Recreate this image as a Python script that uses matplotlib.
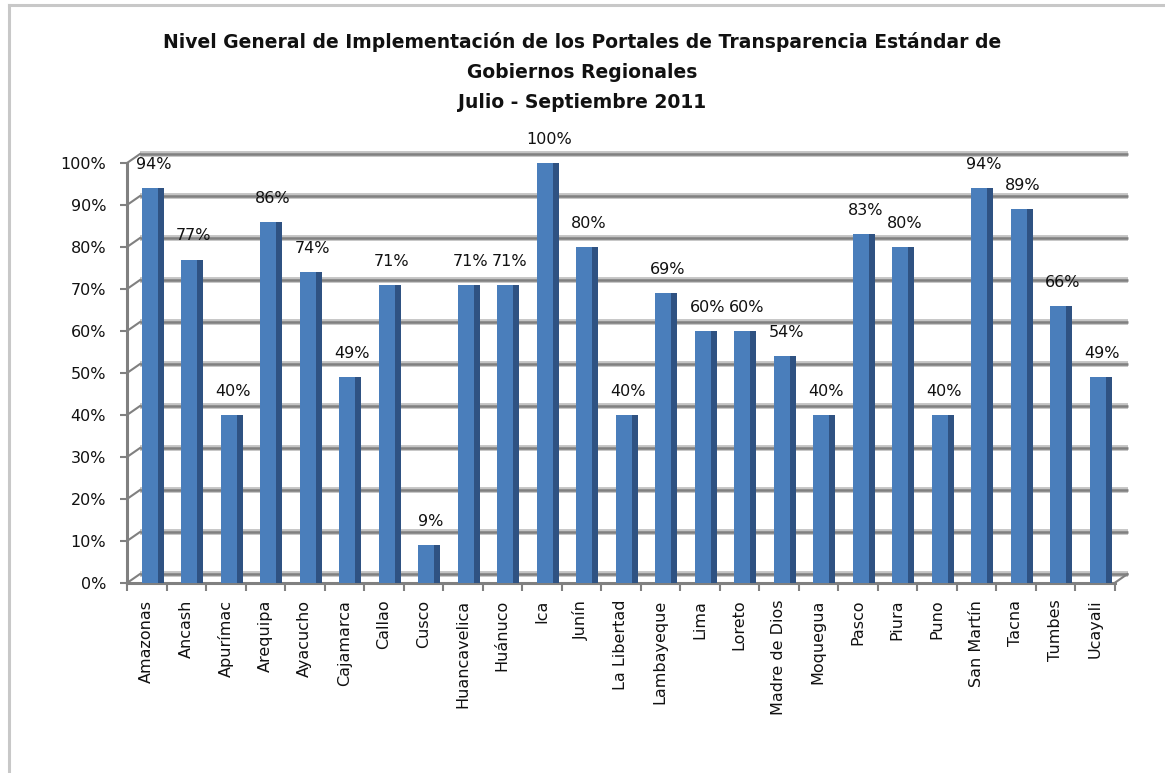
import numpy as np
import matplotlib
matplotlib.use('Agg')
import matplotlib.pyplot as plt
from matplotlib.lines import Line2D

# Data
regiones = ['Amazonas', 'Ancash', 'Apurímac', 'Arequipa', 'Ayacucho', 'Cajamarca',
            'Callao', 'Cusco', 'Huancavelica', 'Huánuco', 'Ica', 'Junín',
            'La Libertad', 'Lambayeque', 'Lima', 'Loreto', 'Madre de Dios',
            'Moquegua', 'Pasco', 'Piura', 'Puno', 'San Martín', 'Tacna',
            'Tumbes', 'Ucayali']
nivel = [94, 77, 40, 86, 74, 49, 71, 9, 71, 71, 100, 80, 40, 69, 60, 60, 54,
         40, 83, 80, 40, 94, 89, 66, 49]
y_ticks = [0, 10, 20, 30, 40, 50, 60, 70, 80, 90, 100]
titulo = ('Nivel General de Implementación de los Portales de Transparencia Estándar de\n'
          'Gobiernos Regionales\n'
          'Julio - Septiembre 2011')

W, H = 1165, 773
fig = plt.figure(figsize=(W / 100, H / 100), dpi=100)

# axes placed in pixel terms (front plane of the 3D chart)
x0, x1 = 127, 1114.5
y0, y1 = 583, 163
ax = fig.add_axes([x0 / W, (H - y0) / H, (x1 - x0) / W, (y0 - y1) / H])
n = len(regiones)
ax.set_xlim(-0.5, n - 0.5)
ax.set_ylim(0, 100)
for s in ax.spines.values():
    s.set_visible(False)

# depth offset of the back wall, in data units
px_x = n / (x1 - x0)
px_y = 100 / (y0 - y1)
dx, dy = 13 * px_x, 9 * px_y

grid_c = '#808080'
# back wall gridlines + left wall diagonals
for v in y_ticks:
    ax.plot([-0.5 + dx, n - 0.5 + dx], [v + dy, v + dy], color='#C4C4C4', lw=4.2,
            solid_capstyle='butt', zorder=1, clip_on=False)
    ax.plot([-0.5 + dx, n - 0.5 + dx], [v + dy, v + dy], color=grid_c, lw=1.8,
            solid_capstyle='butt', zorder=1, clip_on=False)
    ax.plot([-0.5, -0.5 + dx], [v, v + dy], color=grid_c, lw=1.5, zorder=1, clip_on=False)

# floor right diagonal and front lines
ax.plot([n - 0.5, n - 0.5 + dx], [0, dy], color=grid_c, lw=1.5, zorder=1, clip_on=False)
ax.plot([-0.5, n - 0.5], [0, 0], color=grid_c, lw=2.2, zorder=2, clip_on=False)
ax.plot([-0.5, -0.5], [0, 100], color=grid_c, lw=2.2, zorder=2, clip_on=False)

# bars: front face + darker side
pos = np.arange(n) + 6 * px_x
front_w = 16 * px_x
side_w = 6 * px_x
ax.bar(pos - side_w / 2, nivel, width=front_w, color='#4A7EBB', zorder=3)
ax.bar(pos + front_w / 2, nivel, width=side_w, color='#2F5282', zorder=3)

# data labels
for p, v in zip(pos, nivel):
    ax.annotate(f'{v}%', (p, v), xytext=(1, 17), textcoords='offset points',
                ha='center', va='center', fontsize=11.5, color='#111111', zorder=4)

# y axis
ax.set_yticks(y_ticks)
ax.set_yticklabels([f'{v}%' for v in y_ticks])
ax.tick_params(axis='y', length=5, width=1.5, color=grid_c, pad=10,
               labelsize=11.5, labelcolor='#111111')

# x axis: labels at centres, ticks at boundaries
ax.set_xticks(np.arange(n))
ax.set_xticklabels(regiones, rotation=90, ha='center', va='top')
ax.tick_params(axis='x', length=0, pad=12, labelsize=11.5, labelcolor='#111111')
ax.set_xticks(np.arange(n + 1) - 0.5, minor=True)
ax.tick_params(axis='x', which='minor', length=6, width=1.5, color=grid_c)

# title
fig.text(582 / W, 1 - 32 / H, titulo, ha='center', va='top', fontsize=13.5,
         fontweight='bold', linespacing=1.72, color='#111111')

# outer border (left and top visible)
fig.add_artist(Line2D([9 / W, 9 / W], [0, 1 - 5 / H], color='#C8C8C8', lw=2.2))
fig.add_artist(Line2D([9 / W, 1], [1 - 5 / H, 1 - 5 / H], color='#C8C8C8', lw=2.2))

fig.savefig('out.png', dpi=100, facecolor='white')
